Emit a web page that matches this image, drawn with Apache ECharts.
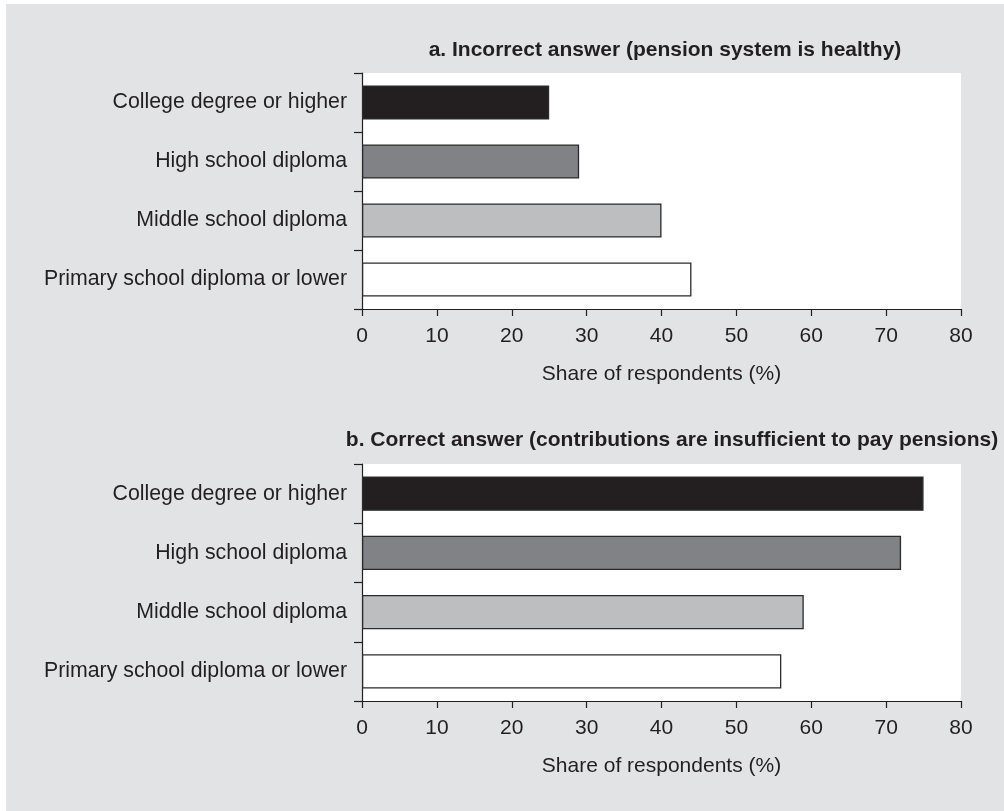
<!DOCTYPE html>
<html>
<head>
<meta charset="utf-8">
<script src="https://cdn.jsdelivr.net/npm/echarts@6/dist/echarts.min.js"></script>
<style>
html,body{margin:0;padding:0;background:#fff;}
#c{width:1004px;height:811px;}
</style>
</head>
<body>
<div id="c"></div>
<script>
const categories = ['College degree or higher', 'High school diploma', 'Middle school diploma', 'Primary school diploma or lower'];
const incorrectValues = [25, 29, 40, 44];
const correctValues = [75, 72, 59, 56];
const xTicks = [0, 10, 20, 30, 40, 50, 60, 70, 80];
const titleA = 'a. Incorrect answer (pension system is healthy)';
const titleB = 'b. Correct answer (contributions are insufficient to pay pensions)';
const xAxisName = 'Share of respondents (%)';

const barColors = ['#231f20', '#808285', '#bcbec0', '#ffffff'];
const FONT = '"Liberation Sans", Arial, sans-serif';
const TXT = '#231f20';

const chart = echarts.init(document.getElementById('c'), null, {renderer: 'canvas'});

function xAxis(gi) {
  return {
    type: 'value', gridIndex: gi, min: xTicks[0], max: xTicks[xTicks.length - 1], interval: xTicks[1] - xTicks[0],
    name: xAxisName, nameLocation: 'middle', nameGap: 55,
    nameTextStyle: {color: TXT, fontSize: 21, fontFamily: FONT, verticalAlign: 'top'},
    axisLine: {show: true, lineStyle: {color: TXT, width: 1.2}},
    axisTick: {show: true, length: 7, lineStyle: {color: TXT, width: 1.2}},
    axisLabel: {color: TXT, fontSize: 21, fontFamily: FONT, margin: 17},
    splitLine: {show: false}
  };
}
function yAxis(gi) {
  return {
    type: 'category', gridIndex: gi, data: categories, inverse: true,
    axisLine: {show: true, lineStyle: {color: TXT, width: 1.2}},
    axisTick: {show: true, length: 8, alignWithLabel: false, lineStyle: {color: TXT, width: 1.2}},
    axisLabel: {color: TXT, fontSize: 21.3, fontFamily: FONT, margin: 15},
    splitLine: {show: false}
  };
}
function bars(vals, gi) {
  return {
    type: 'bar', xAxisIndex: gi, yAxisIndex: gi, barCategoryGap: '42%',
    data: vals.map((v, i) => ({value: v, itemStyle: {color: barColors[i]}})),
    itemStyle: {borderColor: '#2b2b2b', borderWidth: 1.3},
    silent: true
  };
}

chart.setOption({
  animation: false,
  backgroundColor: '#ffffff',
  graphic: [{
    type: 'rect', left: 6, top: 4, z: -100,
    shape: {width: 998, height: 807},
    style: {fill: '#e2e3e5'}
  }],
  title: [
    {text: titleA, left: 660, top: 35, textAlign: 'center',
     textStyle: {color: TXT, fontSize: 21, fontWeight: 'bold', fontFamily: FONT}},
    {text: titleB, left: 667, top: 425, textAlign: 'center',
     textStyle: {color: TXT, fontSize: 21, fontWeight: 'bold', fontFamily: FONT}}
  ],
  grid: [
    {left: 362, top: 73, width: 599, height: 236, show: true, backgroundColor: '#ffffff', borderWidth: 0, containLabel: false},
    {left: 362, top: 464, width: 599, height: 237, show: true, backgroundColor: '#ffffff', borderWidth: 0, containLabel: false}
  ],
  xAxis: [xAxis(0), xAxis(1)],
  yAxis: [yAxis(0), yAxis(1)],
  series: [bars(incorrectValues, 0), bars(correctValues, 1)]
});
</script>
</body>
</html>
